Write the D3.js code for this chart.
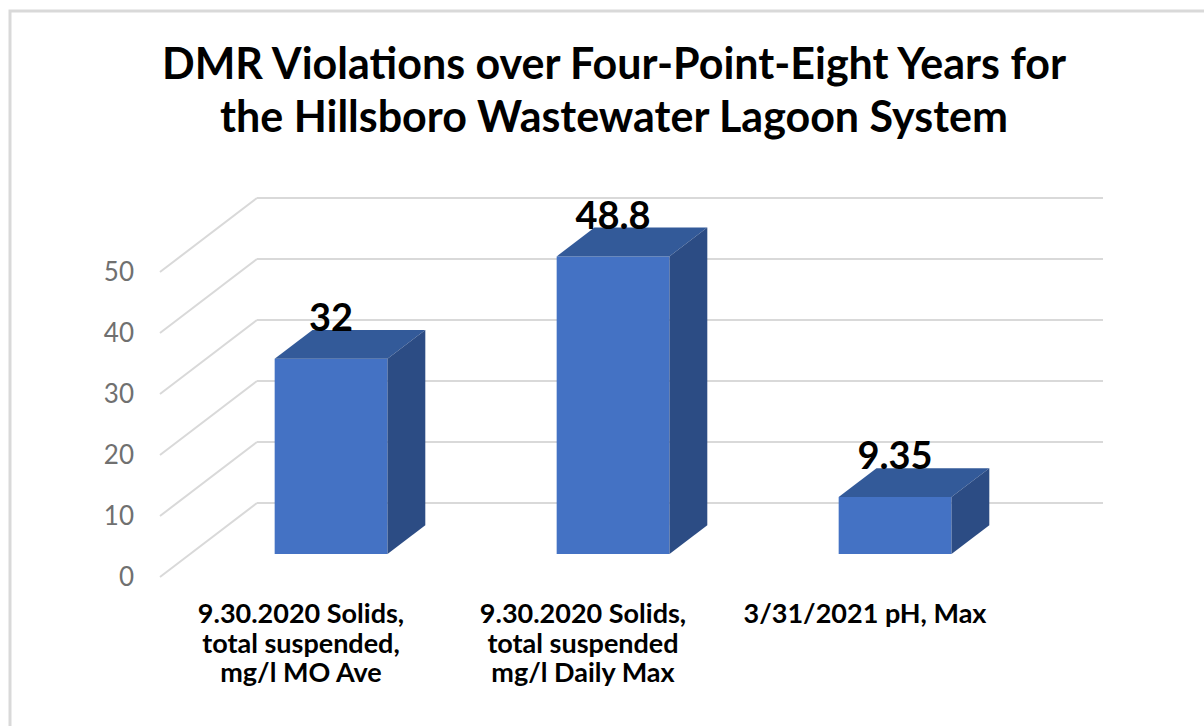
<!DOCTYPE html>
<meta charset="utf-8">
<style>

body {
  margin: 0;
  background: #fff;
}

text {
  font-family: Lato, "Open Sans", sans-serif;
}

.grid line {
  stroke: #d9d9d9;
  stroke-width: 2;
}

.tick-label {
  font-size: 26px;
  fill: #707070;
}

.title {
  font-size: 43px;
  font-weight: bold;
  fill: #000;
}

.cat {
  font-size: 27px;
  font-weight: bold;
  fill: #000;
}

.value {
  font-size: 38px;
  font-weight: bold;
  fill: #000;
}

</style>
<script src="https://d3js.org/d3.v7.min.js"></script>
<svg width="1204" height="726"></svg>
<script>

  var titleLines = ["DMR Violations over Four-Point-Eight Years for", "the Hillsboro Wastewater Lagoon System"];
  var categories = [
    ["9.30.2020 Solids,", "total suspended,", "mg/l MO Ave"],
    ["9.30.2020 Solids,", "total suspended", "mg/l Daily Max"],
    ["3/31/2021 pH, Max"]
  ];
  var values = [32, 48.8, 9.35];
  var valueLabels = ["32", "48.8", "9.35"];
  var yTicks = [0, 10, 20, 30, 40, 50];

  var svg = d3.select("svg");

  // depth vector of the fake 3d floor (back wall -> front edge)
  var depthX = -97, depthY = 74;
  var fFront = 0.69, fBack = 0.30;

  var y = d3.scaleLinear().domain([0, 50]).range([503, 198]);
  var x = d3.scaleBand()
      .domain(d3.range(values.length))
      .range([257, 1103])
      .paddingInner(0.6)
      .paddingOuter(0.3);

  function px(xb, f) { return xb + depthX * f; }
  function py(v, f) { return y(v) + depthY * f; }

  // frame
  svg.append("rect")
      .attr("x", 10).attr("y", 11)
      .attr("width", 1300).attr("height", 800)
      .attr("fill", "none")
      .attr("stroke", "#d9d9d9")
      .attr("stroke-width", 3);

  // title
  svg.append("text")
      .attr("class", "title")
      .attr("text-anchor", "middle")
      .selectAll("tspan")
      .data(titleLines)
      .enter().append("tspan")
        .attr("x", 614)
        .attr("y", function(d, i) { return 79 + i * 53; })
        .text(function(d) { return d; });

  // gridlines: back wall + side wall diagonals
  var grid = svg.append("g").attr("class", "grid");
  grid.selectAll(".back")
      .data(yTicks)
      .enter().append("line")
        .attr("x1", x.range()[0]).attr("x2", x.range()[1])
        .attr("y1", function(d) { return y(d); })
        .attr("y2", function(d) { return y(d); });
  grid.selectAll(".side")
      .data(yTicks)
      .enter().append("line")
        .attr("x1", px(x.range()[0], 1)).attr("x2", x.range()[0])
        .attr("y1", function(d) { return py(d, 1); })
        .attr("y2", function(d) { return y(d); });

  // y tick labels
  svg.selectAll(".tick-label")
      .data(yTicks)
      .enter().append("text")
        .attr("class", "tick-label")
        .attr("text-anchor", "end")
        .attr("x", px(x.range()[0], 1) - 26)
        .attr("y", function(d) { return py(d, 1); })
        .attr("dy", "0.36em")
        .text(function(d) { return d; });

  // bars
  var bar = svg.selectAll(".bar")
      .data(values)
      .enter().append("g")
        .attr("class", "bar");

  bar.append("path")
      .attr("fill", "#4472c4")
      .attr("d", function(d, i) {
        var x0 = x(i), x1 = x(i) + x.bandwidth();
        return "M" + px(x0, fFront) + "," + py(0, fFront) +
               "L" + px(x1, fFront) + "," + py(0, fFront) +
               "L" + px(x1, fFront) + "," + py(d, fFront) +
               "L" + px(x0, fFront) + "," + py(d, fFront) + "Z";
      });

  bar.append("path")
      .attr("fill", "#335a99")
      .attr("d", function(d, i) {
        var x0 = x(i), x1 = x(i) + x.bandwidth();
        return "M" + px(x0, fFront) + "," + py(d, fFront) +
               "L" + px(x1, fFront) + "," + py(d, fFront) +
               "L" + px(x1, fBack) + "," + py(d, fBack) +
               "L" + px(x0, fBack) + "," + py(d, fBack) + "Z";
      });

  bar.append("path")
      .attr("fill", "#2c4c84")
      .attr("d", function(d, i) {
        var x1 = x(i) + x.bandwidth();
        return "M" + px(x1, fFront) + "," + py(0, fFront) +
               "L" + px(x1, fBack) + "," + py(0, fBack) +
               "L" + px(x1, fBack) + "," + py(d, fBack) +
               "L" + px(x1, fFront) + "," + py(d, fFront) + "Z";
      });

  // value labels
  svg.selectAll(".value")
      .data(values)
      .enter().append("text")
        .attr("class", "value")
        .attr("text-anchor", "middle")
        .attr("x", function(d, i) { return px(x(i) + x.bandwidth() / 2, fFront); })
        .attr("y", function(d) { return py(d, fBack) + 1; })
        .text(function(d, i) { return valueLabels[i]; });

  // category labels on the front floor edge
  svg.selectAll(".cat")
      .data(categories)
      .enter().append("text")
        .attr("class", "cat")
        .attr("text-anchor", "middle")
        .each(function(lines, i) {
          var cx = px(x(i) + x.bandwidth() / 2, 1);
          d3.select(this).selectAll("tspan")
            .data(lines)
            .enter().append("tspan")
              .attr("x", cx)
              .attr("y", function(d, j) { return 623 + j * 29.5; })
              .text(function(d) { return d; });
        });

</script>
